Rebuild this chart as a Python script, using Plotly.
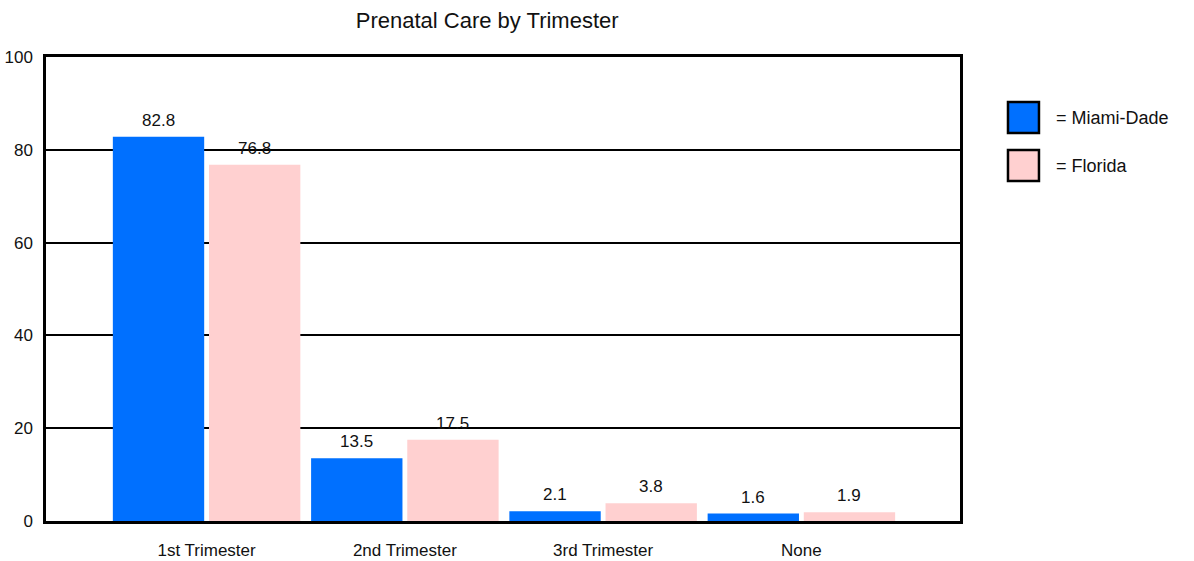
import plotly.graph_objects as go

categories = ["1st Trimester", "2nd Trimester", "3rd Trimester", "None"]
miami_dade = [82.8, 13.5, 2.1, 1.6]
florida = [76.8, 17.5, 3.8, 1.9]
series_names = ["Miami-Dade", "Florida"]
colors = ["#0070FF", "#FFD0D0"]
y_ticks = [0, 20, 40, 60, 80, 100]

FONT = "Liberation Sans, Arial, sans-serif"
xpos = list(range(len(categories)))
bargap = 0.03
bargroupgap = 0.05
slot = (1 - bargap) / 2
offsets = [-slot / 2, slot / 2]

fig = go.Figure()
for name, vals, col in zip(series_names, [miami_dade, florida], colors):
    fig.add_trace(go.Bar(x=xpos, y=vals, name=name, marker=dict(color=col, line=dict(width=0)),
                         showlegend=False))

annotations = []
for vals, off in zip([miami_dade, florida], offsets):
    for xi, v in zip(xpos, vals):
        annotations.append(dict(x=xi + off, y=v, xref="x", yref="y", text=f"{v:.1f}",
                                showarrow=False, yanchor="bottom", yshift=5,
                                font=dict(family=FONT, size=17, color="#111")))

# legend drawn manually (large boxes with black borders)
shapes = []
leg_boxes = [(0.903, 0.836), (0.7996, 0.7328)]
leg_text_y = [0.8685, 0.765]
for (y1, y0), ty, name, col in zip(leg_boxes, leg_text_y, series_names, colors):
    shapes.append(dict(type="rect", xref="paper", yref="paper", x0=1.0525, x1=1.0864, y0=y0, y1=y1,
                       fillcolor=col, line=dict(color="black", width=2.5)))
    annotations.append(dict(x=1.103, y=ty, xref="paper", yref="paper", text="= " + name,
                            showarrow=False, xanchor="left", yanchor="middle",
                            font=dict(family=FONT, size=18, color="#111")))

fig.update_layout(
    width=1194, height=561,
    margin=dict(l=46, r=234, t=57, b=40, autoexpand=False),
    paper_bgcolor="white", plot_bgcolor="white",
    barmode="group", bargap=bargap, bargroupgap=bargroupgap,
    title=dict(text="Prenatal Care by Trimester", x=0.408, xref="container", xanchor="center",
               y=0.964, yref="container", yanchor="middle",
               font=dict(family=FONT, size=22, color="#111")),
    font=dict(family=FONT, size=17, color="#111"),
    shapes=shapes, annotations=annotations,
    xaxis=dict(range=[-0.81, 3.80], tickvals=xpos, ticktext=categories, automargin=False,
               showgrid=False, zeroline=False, showline=True, linecolor="black", linewidth=2.5,
               mirror=True, ticks="outside", ticklen=12, tickcolor="rgba(0,0,0,0)",
               tickfont=dict(family=FONT, size=17, color="#111")),
    yaxis=dict(range=[0, 100], tickvals=y_ticks, showgrid=True, gridcolor="black", gridwidth=1.5,
               zeroline=False, showline=True, linecolor="black", linewidth=2.5, mirror=True,
               automargin=False,
               ticks="outside", ticklen=7, tickcolor="rgba(0,0,0,0)",
               tickfont=dict(family=FONT, size=17, color="#111")),
)

fig.write_html("out.html", config={"displayModeBar": False},
               post_script="document.body.style.margin='0';document.body.style.overflow='hidden';")
